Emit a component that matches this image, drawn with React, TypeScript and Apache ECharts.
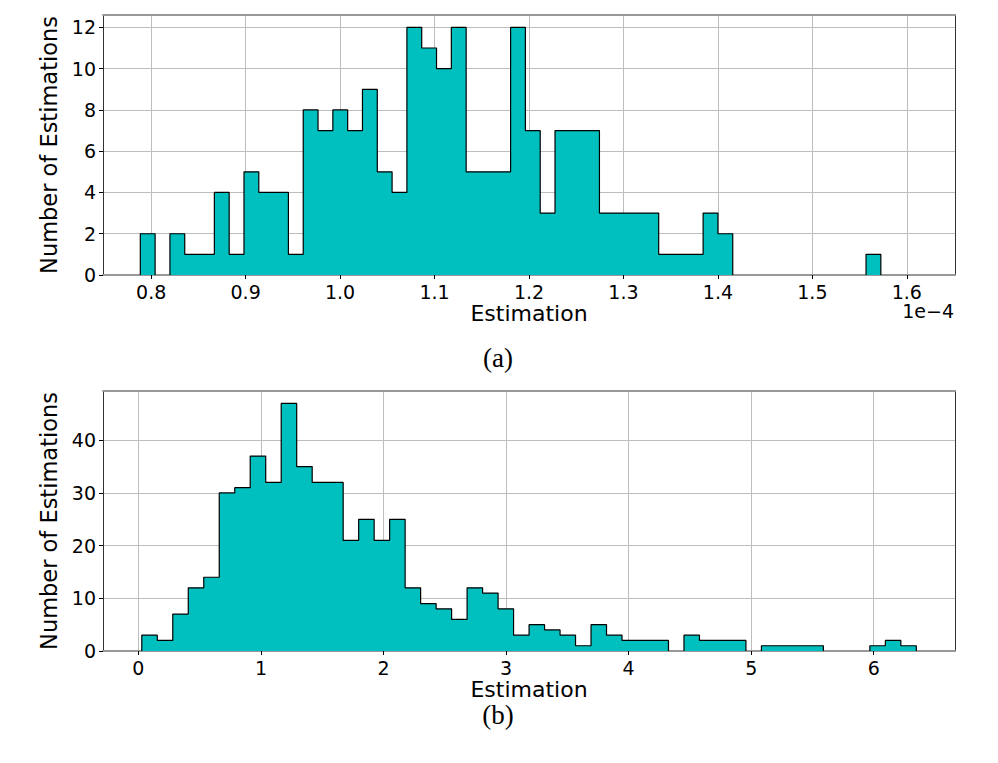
import React, { useEffect, useRef } from "react";
import * as echarts from "echarts";

// ---- Data ----
// (a) histogram: 50 bins, values in units of 1e-4
const topBinStart = 0.7885;
const topBinWidth = 0.01568;
const topCounts = [
  2, 0, 2, 1, 1, 4, 1, 5, 4, 4,
  1, 8, 7, 8, 7, 9, 5, 4, 12, 11,
  10, 12, 5, 5, 5, 12, 7, 3, 7, 7,
  7, 3, 3, 3, 3, 1, 1, 1, 3, 2,
  0, 0, 0, 0, 0, 0, 0, 0, 0, 1,
];
const topXTicks = [0.8, 0.9, 1.0, 1.1, 1.2, 1.3, 1.4, 1.5, 1.6];
const topYTicks = [0, 2, 4, 6, 8, 10, 12];
const topXRange = [0.749, 1.651];
const topYRange = [0, 12.6];

// (b) histogram: 50 bins
const bottomBinStart = 0.0275;
const bottomBinWidth = 0.1264;
const bottomCounts = [
  3, 2, 7, 12, 14, 30, 31, 37, 32, 47,
  35, 32, 32, 21, 25, 21, 25, 12, 9, 8,
  6, 12, 11, 8, 3, 5, 4, 3, 1, 5,
  3, 2, 2, 2, 0, 3, 2, 2, 2, 0,
  1, 1, 1, 1, 0, 0, 0, 1, 2, 1,
];
const bottomXTicks = [0, 1, 2, 3, 4, 5, 6];
const bottomYTicks = [0, 10, 20, 30, 40];
const bottomXRange = [-0.289, 6.663];
const bottomYRange = [0, 49.35];

const xTitle = "Estimation";
const yTitle = "Number of Estimations";
const offsetText = "1e\u22124";
const captions = ["(a)", "(b)"];

const FILL = "#00bfbf";
const FONT = "DejaVu Sans";

// Step outlines, one per run of non-empty bins
function stepRuns(start: number, width: number, counts: number[]) {
  const runs: number[][][] = [];
  let cur: number[][] | null = null;
  counts.forEach((c, i) => {
    const x0 = start + i * width;
    const x1 = x0 + width;
    if (c > 0) {
      if (!cur) {
        cur = [[x0, 0]];
      }
      cur.push([x0, c]);
      cur.push([x1, c]);
    } else if (cur) {
      cur.push([x0, 0]);
      runs.push(cur);
      cur = null;
    }
  });
  if (cur) {
    (cur as number[][]).push([start + counts.length * width, 0]);
    runs.push(cur);
  }
  return runs;
}

export default function App() {
  const ref = useRef<HTMLDivElement>(null);

  useEffect(() => {
    if (!ref.current) return;
    const chart = echarts.init(ref.current, null, { renderer: "svg" });

    const grids = [
      { left: 103, top: 15, width: 852, height: 260 },
      { left: 103, top: 391, width: 852, height: 260 },
    ];
    const xRanges = [topXRange, bottomXRange];
    const yRanges = [topYRange, bottomYRange];
    const xTicks = [topXTicks, bottomXTicks];
    const yTicks = [topYTicks, bottomYTicks];
    const xFmt = [(v: number) => v.toFixed(1), (v: number) => String(Math.round(v))];

    const xAxes: any[] = [];
    const yAxes: any[] = [];
    [0, 1].forEach((g) => {
      xAxes.push({
        type: "value",
        gridIndex: g,
        min: xRanges[g][0],
        max: xRanges[g][1],
        position: "bottom",
        name: xTitle,
        nameLocation: "middle",
        nameGap: 27,
        nameTextStyle: { fontFamily: FONT, fontSize: 22, color: "#000" },
        axisLine: { show: true, onZero: false, lineStyle: { color: "#999", width: 2 } },
        axisTick: {
          show: true,
          length: 4,
          customValues: xTicks[g],
          lineStyle: { color: "#000", width: 1 },
        },
        axisLabel: {
          show: true,
          margin: 7,
          customValues: xTicks[g],
          formatter: xFmt[g],
          fontFamily: FONT,
          fontSize: 19,
          color: "#000",
        },
        splitLine: { show: true, lineStyle: { color: "#bdbdbd", width: 1 } },
      });
      yAxes.push({
        type: "value",
        gridIndex: g,
        min: yRanges[g][0],
        max: yRanges[g][1],
        position: "left",
        name: yTitle,
        nameLocation: "middle",
        nameGap: 38,
        nameTextStyle: { fontFamily: FONT, fontSize: 22.5, color: "#000" },
        axisLine: { show: true, onZero: false, lineStyle: { color: "#333", width: 1 } },
        axisTick: {
          show: true,
          length: 4,
          customValues: yTicks[g],
          lineStyle: { color: "#000", width: 1 },
        },
        axisLabel: {
          show: true,
          margin: 7,
          customValues: yTicks[g],
          formatter: (v: number) => String(Math.round(v)),
          fontFamily: FONT,
          fontSize: 19,
          color: "#000",
        },
        splitLine: { show: true, lineStyle: { color: "#bdbdbd", width: 1 } },
      });
    });
    // top and right spines
    [0, 1].forEach((g) => {
      xAxes.push({
        type: "value",
        gridIndex: g,
        min: xRanges[g][0],
        max: xRanges[g][1],
        position: "top",
        axisLine: { show: true, onZero: false, lineStyle: { color: "#999", width: 2 } },
        axisTick: { show: false },
        axisLabel: { show: false },
        splitLine: { show: false },
      });
      yAxes.push({
        type: "value",
        gridIndex: g,
        min: yRanges[g][0],
        max: yRanges[g][1],
        position: "right",
        axisLine: { show: true, onZero: false, lineStyle: { color: "#333", width: 1 } },
        axisTick: { show: false },
        axisLabel: { show: false },
        splitLine: { show: false },
      });
    });

    const series: any[] = [];
    const addRuns = (runs: number[][][], g: number) => {
      runs.forEach((run) => {
        series.push({
          type: "line",
          xAxisIndex: g,
          yAxisIndex: g,
          data: run,
          showSymbol: false,
          symbol: "none",
          lineStyle: { color: "#000", width: 1.2 },
          areaStyle: { color: FILL, opacity: 1 },
          z: 3,
        });
      });
    };
    addRuns(stepRuns(topBinStart, topBinWidth, topCounts), 0);
    addRuns(stepRuns(bottomBinStart, bottomBinWidth, bottomCounts), 1);

    const option: any = {
      animation: false,
      backgroundColor: "#fff",
      grid: grids.map((g) => ({ ...g, show: false })),
      xAxis: xAxes,
      yAxis: yAxes,
      series,
      graphic: [
        {
          type: "text",
          right: 44,
          top: 301,
          style: {
            text: offsetText,
            fontFamily: FONT,
            fontSize: 19,
            fill: "#000",
          },
        },
        {
          type: "text",
          x: 498,
          y: 358,
          style: {
            text: captions[0],
            fontFamily: "Liberation Serif",
            fontSize: 27,
            fill: "#000",
            textAlign: "center",
            textVerticalAlign: "middle",
          },
        },
        {
          type: "text",
          x: 498,
          y: 715,
          style: {
            text: captions[1],
            fontFamily: "Liberation Serif",
            fontSize: 27,
            fill: "#000",
            textAlign: "center",
            textVerticalAlign: "middle",
          },
        },
      ],
    };
    chart.setOption(option);
    return () => chart.dispose();
  }, []);

  return (
    <div
      ref={ref}
      style={{ position: "absolute", left: 0, top: 0, width: 998, height: 763 }}
    />
  );
}
